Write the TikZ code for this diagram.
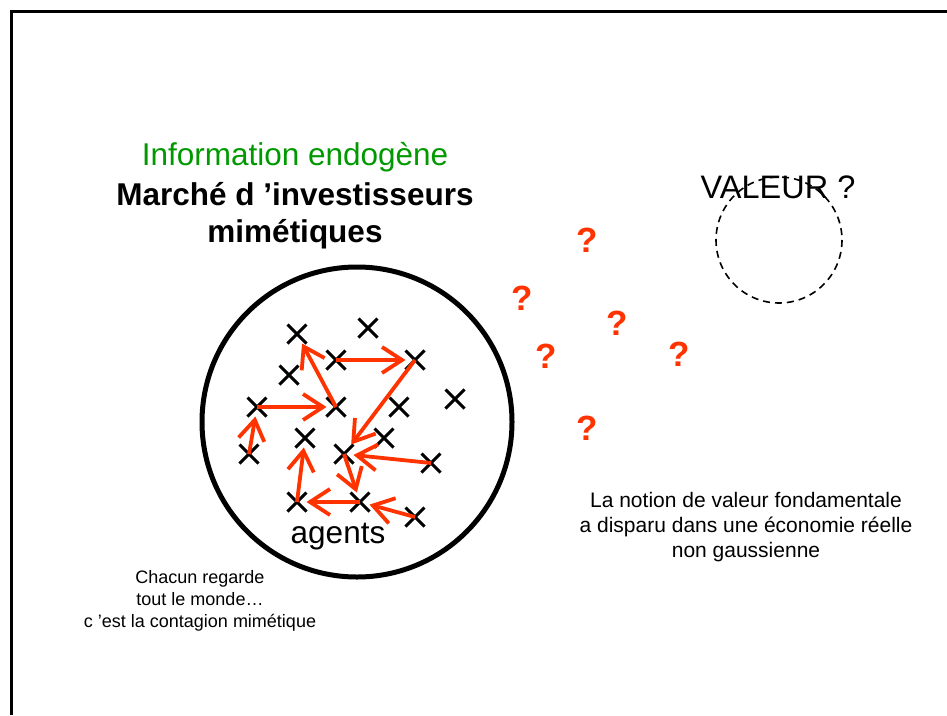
\documentclass[tikz,border=0pt]{standalone}
\usepackage{fontspec}
\setmainfont{Liberation Sans}
\usetikzlibrary{shapes.misc,arrows.meta}
\definecolor{rouge}{RGB}{255,51,0}
\definecolor{vert}{RGB}{0,153,0}

\begin{document}
\begin{tikzpicture}[x=1pt,y=-1pt,
	agent/.style={cross out,draw,minimum size=16pt,inner sep=0pt,line width=3pt},
	suit/.style={rouge,line width=3.8pt,-{Straight Barb[length=20pt,width=26pt]}},
	quest/.style={rouge,font=\fontsize{35}{38}\selectfont\bfseries},
	grand/.style={font=\fontsize{31.5}{37}\selectfont},
	petit/.style={align=center,font=\fontsize{18}{22}\selectfont}]
			\useasboundingbox (0,0) rectangle (947,715);
			\draw[line width=3pt] (11,715) -- (11,11) -- (947,11);
			% titre
			\node[grand,vert] (titre) at (295,157) {Information endogène};
			\node[grand,font=\fontsize{31.5}{37}\selectfont\bfseries,align=center] (marche) at (295,216) {Marché d ’investisseurs\\mimétiques};
			% le marche
			\draw[line width=5pt] (357,422) circle (155);
			\node[grand] (agents) at (338,537) {agents};
			\node[agent] (a1) at (297,334) {};
			\node[agent] (a2) at (368,328) {};
			\node[agent] (a3) at (336,360) {};
			\node[agent] (a4) at (415,360) {};
			\node[agent] (a5) at (289,375) {};
			\node[agent] (a6) at (257,407) {};
			\node[agent] (a7) at (336,407) {};
			\node[agent] (a8) at (399,407) {};
			\node[agent] (a9) at (455,399) {};
			\node[agent] (a10) at (305,438) {};
			\node[agent] (a11) at (384,438) {};
			\node[agent] (a12) at (249,454) {};
			\node[agent] (a13) at (344,454) {};
			\node[agent] (a14) at (431,463) {};
			\node[agent] (a15) at (297,502) {};
			\node[agent] (a16) at (360,502) {};
			\node[agent] (a17) at (415,517) {};
			% qui regarde qui
			\draw[suit] (a7.center) -- (a1);
			\draw[suit] (a3.center) -- (a4);
			\draw[suit] (a4.center) -- (a13);
			\draw[suit] (a6.center) -- (a7);
			\draw[suit] (a12.center) -- (a6);
			\draw[suit] (a14.center) -- (a13);
			\draw[suit] (a13.center) -- (a16);
			\draw[suit] (a16.center) -- (a15);
			\draw[suit] (a15.center) -- (a10);
			\draw[suit] (a17.center) -- (a16);
			\node[petit] (chacun) at (200,601) {Chacun regarde\\tout le monde…\\c ’est la contagion mimétique};
			% la valeur
			\draw[line width=1.6pt,dash pattern=on 7pt off 5pt] (779,240) circle (63);
			\node[grand,font=\fontsize{32.5}{37}\selectfont] (valeur) at (778,187) {VALEUR ?};
			\node[quest] (q1) at (587,240) {?};
			\node[quest] (q2) at (522,298) {?};
			\node[quest] (q3) at (617,323) {?};
			\node[quest] (q4) at (546,356) {?};
			\node[quest] (q5) at (679,354) {?};
			\node[quest] (q6) at (587,428) {?};
			\node[petit,font=\fontsize{21}{25}\selectfont] (notion) at (746,527) {La notion de valeur fondamentale\\a disparu dans une économie réelle\\non gaussienne};
		\end{tikzpicture}
\end{document}
